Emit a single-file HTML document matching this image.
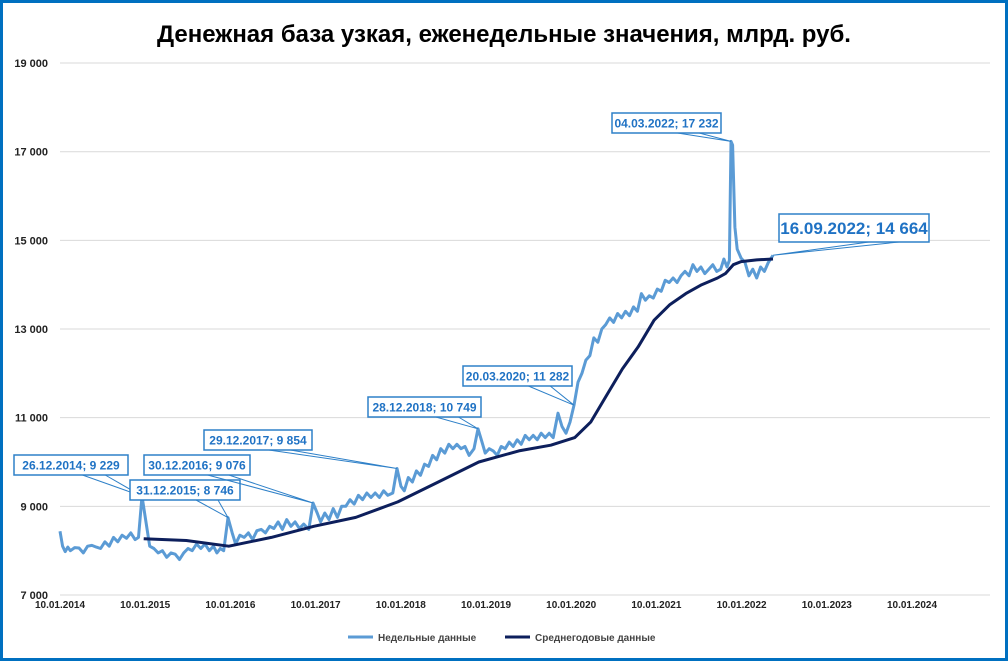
<!DOCTYPE html>
<html><head><meta charset="utf-8"><style>
body{margin:0;background:#fff;font-family:"Liberation Sans",sans-serif}
#wrap{position:relative;width:1008px;height:661px;overflow:hidden}
</style></head><body>
<div id="wrap">
<svg id="chart" width="1008" height="661" xmlns="http://www.w3.org/2000/svg">
<rect x="1.5" y="1.5" width="1005" height="658" fill="#fff" stroke="#0070c0" stroke-width="3"/>
<text x="504" y="42" text-anchor="middle" font-size="24" font-weight="bold" fill="#000">Денежная база узкая, еженедельные значения, млрд. руб.</text>
<g id="grid"></g><g id="series"></g><g id="ann"></g>
<g>
<line x1="348" y1="637" x2="373" y2="637" stroke="#5b9bd5" stroke-width="3"/>
<text x="378" y="641" font-size="10" font-weight="bold" fill="#444">Недельные данные</text>
<line x1="505" y1="637" x2="530" y2="637" stroke="#0d1f5c" stroke-width="3"/>
<text x="535" y="641" font-size="10" font-weight="bold" fill="#444">Среднегодовые данные</text>
</g>
</svg>
</div>
<script>
const yTicks=[7000,9000,11000,13000,15000,17000,19000];
const yTickLabels=["7 000","9 000","11 000","13 000","15 000","17 000","19 000"];
const xTicks=[2014,2015,2016,2017,2018,2019,2020,2021,2022,2023,2024];
const xTickLabels=["10.01.2014","10.01.2015","10.01.2016","10.01.2017","10.01.2018","10.01.2019","10.01.2020","10.01.2021","10.01.2022","10.01.2023","10.01.2024"];
const weeklyDates=[2014.03,2014.06,2014.09,2014.12,2014.15,2014.2,2014.25,2014.3,2014.35,2014.4,2014.45,2014.5,2014.55,2014.6,2014.65,2014.7,2014.75,2014.8,2014.85,2014.9,2014.94,2014.98,2015.03,2015.07,2015.12,2015.17,2015.22,2015.27,2015.32,2015.37,2015.42,2015.47,2015.52,2015.57,2015.62,2015.67,2015.72,2015.77,2015.82,2015.86,2015.9,2015.94,2015.99,2016.04,2016.08,2016.13,2016.18,2016.23,2016.28,2016.33,2016.38,2016.43,2016.48,2016.53,2016.58,2016.63,2016.68,2016.73,2016.78,2016.83,2016.88,2016.94,2016.99,2017.04,2017.08,2017.13,2017.18,2017.23,2017.28,2017.33,2017.38,2017.43,2017.48,2017.53,2017.58,2017.63,2017.68,2017.73,2017.78,2017.83,2017.88,2017.94,2017.99,2018.04,2018.08,2018.13,2018.18,2018.23,2018.28,2018.33,2018.38,2018.43,2018.48,2018.53,2018.58,2018.63,2018.68,2018.73,2018.78,2018.83,2018.88,2018.94,2018.99,2019.04,2019.08,2019.13,2019.18,2019.23,2019.28,2019.33,2019.38,2019.43,2019.48,2019.53,2019.58,2019.63,2019.68,2019.73,2019.78,2019.83,2019.88,2019.93,2019.99,2020.04,2020.09,2020.14,2020.19,2020.24,2020.29,2020.34,2020.39,2020.44,2020.49,2020.54,2020.59,2020.64,2020.69,2020.74,2020.79,2020.84,2020.89,2020.94,2020.99,2021.04,2021.09,2021.14,2021.19,2021.24,2021.29,2021.34,2021.39,2021.44,2021.49,2021.54,2021.59,2021.64,2021.69,2021.74,2021.79,2021.84,2021.89,2021.94,2021.99,2022.04,2022.08,2022.12,2022.15,2022.17,2022.19,2022.22,2022.25,2022.3,2022.35,2022.4,2022.45,2022.5,2022.55,2022.6,2022.65,2022.71];
const weeklyValues=[8440,8100,7980,8080,8000,8070,8060,7950,8100,8120,8080,8050,8200,8100,8300,8200,8350,8280,8400,8250,8300,9229,8600,8100,8050,7950,8000,7850,7950,7920,7800,7950,8050,8000,8150,8050,8150,8000,8100,7950,8050,8000,8746,8400,8150,8350,8300,8400,8250,8450,8480,8400,8550,8500,8650,8480,8700,8550,8650,8500,8600,8480,9076,8850,8650,8850,8700,8950,8750,9000,9000,9150,9050,9250,9150,9300,9200,9300,9200,9350,9250,9300,9854,9450,9350,9650,9550,9800,9700,9950,9900,10150,10050,10300,10200,10400,10300,10400,10300,10350,10150,10300,10749,10450,10200,10300,10250,10150,10350,10300,10450,10350,10500,10400,10600,10500,10600,10500,10650,10550,10650,10550,11100,10800,10650,10900,11282,11800,12000,12300,12400,12800,12700,13000,13100,13250,13150,13350,13250,13400,13300,13500,13400,13800,13650,13750,13700,13900,13850,14100,14050,14150,14050,14200,14300,14200,14450,14300,14400,14250,14350,14450,14300,14350,14580,14400,14550,17232,17150,15300,14800,14600,14500,14200,14350,14150,14400,14300,14500,14664];
const annualDates=[2015.0,2015.5,2016.0,2016.5,2017.0,2017.5,2018.0,2018.5,2019.0,2019.5,2019.9,2020.2,2020.4,2020.6,2020.8,2021.0,2021.2,2021.4,2021.6,2021.8,2022.0,2022.1,2022.2,2022.3,2022.5,2022.71];
const annualValues=[8270,8230,8100,8300,8550,8750,9100,9550,10000,10250,10380,10550,10900,11500,12100,12600,13200,13550,13800,14000,14150,14250,14450,14520,14560,14580];
const annDates=[2014.98,2015.99,2016.99,2017.99,2018.99,2020.19,2022.17,2022.71];
const annValues=[9229,8746,9076,9854,10749,11282,17232,14664];
const annLabels=["26.12.2014; 9 229","31.12.2015; 8 746","30.12.2016; 9 076","29.12.2017; 9 854","28.12.2018; 10 749","20.03.2020; 11 282","04.03.2022; 17 232","16.09.2022; 14 664"];

const NS="http://www.w3.org/2000/svg";
function y(v){return 595-(v-7000)*0.04433;}
function xt(t){return 60+(t-2014)*85.2;}
// data-axis calibration (layout): date -> pixel anchors
const calD=[2014.03,2014.98,2015.99,2016.99,2017.99,2018.99,2020.19,2022.17,2022.71];
const calX=[60,142,228,313,397,478,574,731,773];
function xd(t){
  if(t<=calD[0])return calX[0];
  for(let i=1;i<calD.length;i++){if(t<=calD[i]){const f=(t-calD[i-1])/(calD[i]-calD[i-1]);return calX[i-1]+f*(calX[i]-calX[i-1]);}}
  const n=calD.length-1;return calX[n]+(t-calD[n])*78;
}
function mk(tag,attrs,parent){const e=document.createElementNS(NS,tag);for(const k in attrs)e.setAttribute(k,attrs[k]);parent.appendChild(e);return e;}
const grid=document.getElementById('grid');
yTicks.forEach((v,i)=>{
  const l=mk('line',{x1:60,x2:990,y1:y(v),y2:y(v),stroke:'#d9d9d9','stroke-width':1},grid);
  
  
  const t=mk('text',{x:48,y:y(v)+4,'text-anchor':'end','font-size':11,'font-weight':'bold',fill:'#222'},grid);
  t.textContent=yTickLabels[i];
  
  
});
xTicks.forEach((v,i)=>{
  const t=mk('text',{x:xt(v),y:608,'text-anchor':'middle','font-size':10,'font-weight':'bold',fill:'#222'},grid);
  t.textContent=xTickLabels[i];
  
  
});
const ser=document.getElementById('series');
const p1=mk('polyline',{points:weeklyDates.map((d,i)=>xd(d).toFixed(1)+','+y(weeklyValues[i]).toFixed(1)).join(' '),fill:'none',stroke:'#5b9bd5','stroke-width':3,'stroke-linejoin':'round'},ser);


const p2=mk('polyline',{points:annualDates.map((d,i)=>xd(d).toFixed(1)+','+y(annualValues[i]).toFixed(1)).join(' '),fill:'none',stroke:'#0d1f5c','stroke-width':3,'stroke-linejoin':'round'},ser);


const boxes=[[14,455,114,20,12],[130,480,110,20,12],[144,455,106,20,12],[204,430,108,20,12],[368,397,113,20,12],[463,366,109,20,12],[612,113,109,20,12],[779,214,150,28,17]];
const ann=document.getElementById('ann');
annLabels.forEach((lab,i)=>{
  const [bx,by,bw,bh,fs]=boxes[i];
  const tx=xd(annDates[i]),ty=y(annValues[i]);
  const g=mk('g',{},ann);
  
  
  const a1=bx+bw*0.6,a2=bx+bw*0.8;
  mk('polyline',{points:`${a1},${by+bh} ${tx},${ty} ${a2},${by+bh}`,fill:'none',stroke:'#2e80c8','stroke-width':1},g);
  mk('rect',{x:bx,y:by,width:bw,height:bh,fill:'#fff',stroke:'#2e80c8','stroke-width':1.5},g);
  const t=mk('text',{x:bx+bw/2,y:by+bh/2+fs*0.36,'text-anchor':'middle','font-size':fs,'font-weight':'bold',fill:'#1f72c4'},g);
  t.textContent=lab;
});
</script>
</body></html>
